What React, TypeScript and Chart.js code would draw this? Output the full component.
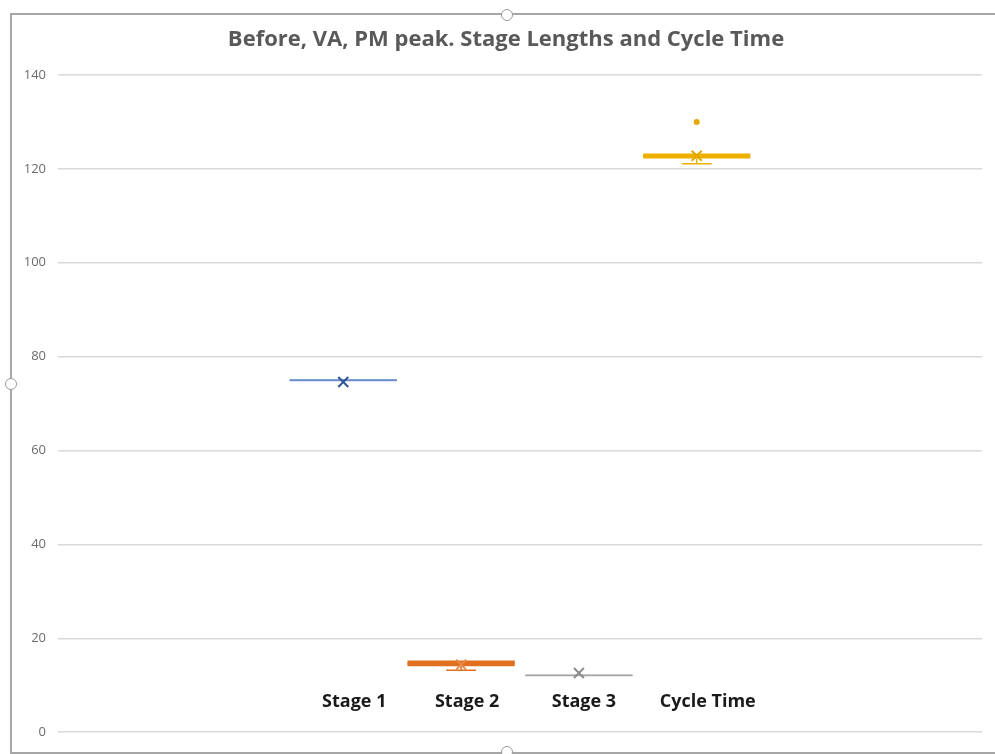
import React, { useEffect, useRef } from "react";
import { Chart, registerables } from "chart.js";

Chart.register(...registerables);

const titleText = "Before, VA, PM peak. Stage Lengths and Cycle Time";
const seriesNames = ["Stage 1", "Stage 2", "Stage 3", "Cycle Time"];
const q1Values = [74.75, 14.05, 11.95, 122.2];
const q3Values = [75.2, 15.3, 12.3, 123.3];
const medianValues = [75, 14.6, 12.1, 122.7];
const minValues = [75, 13.2, 12.1, 121.1];
const maxValues = [75, 15.3, 12.3, 123.3];
const meanValues = [74.6, 14.4, 12.6, 122.8];
const outlierValues: number[][] = [[], [], [], [130]];
const yTicks = [0, 20, 40, 60, 80, 100, 120, 140];

const boxColors = ["#6F8FCF", "#E07020", "#A8A8A8", "#EEB000"];
const markColors = ["#2F5597", "#E8894A", "#8C8C8C", "#E0A800"];
const labelShift = [11, 6, 5, 11];

const boxPlugin = {
  id: "boxExtras",
  afterDatasetsDraw(chart: any) {
    const ctx = chart.ctx;
    const y = chart.scales.y;
    const area = chart.chartArea;
    chart.data.datasets.forEach((ds: any, i: number) => {
      const meta = chart.getDatasetMeta(i);
      const el = meta.data[0];
      if (!el) return;
      const cx = el.x;
      const w = el.width;
      const cap = w * 0.28;
      ctx.save();
      ctx.strokeStyle = boxColors[i];
      ctx.lineWidth = 1.5;
      const yq1 = y.getPixelForValue(q1Values[i]);
      const yq3 = y.getPixelForValue(q3Values[i]);
      const ymin = y.getPixelForValue(minValues[i]);
      const ymax = y.getPixelForValue(maxValues[i]);
      if (ymin > yq1 + 0.5) {
        ctx.beginPath();
        ctx.moveTo(cx, yq1);
        ctx.lineTo(cx, ymin);
        ctx.moveTo(cx - cap / 2, ymin);
        ctx.lineTo(cx + cap / 2, ymin);
        ctx.stroke();
      }
      if (ymax < yq3 - 0.5) {
        ctx.beginPath();
        ctx.moveTo(cx, yq3);
        ctx.lineTo(cx, ymax);
        ctx.moveTo(cx - cap / 2, ymax);
        ctx.lineTo(cx + cap / 2, ymax);
        ctx.stroke();
      }
      const ymed = y.getPixelForValue(medianValues[i]);
      ctx.beginPath();
      ctx.moveTo(cx - w / 2, ymed);
      ctx.lineTo(cx + w / 2, ymed);
      ctx.stroke();
      const ym = y.getPixelForValue(meanValues[i]);
      const s = 5;
      ctx.strokeStyle = markColors[i];
      ctx.lineWidth = 2;
      ctx.beginPath();
      ctx.moveTo(cx - s, ym - s);
      ctx.lineTo(cx + s, ym + s);
      ctx.moveTo(cx + s, ym - s);
      ctx.lineTo(cx - s, ym + s);
      ctx.stroke();
      ctx.fillStyle = markColors[i];
      outlierValues[i].forEach((v) => {
        ctx.beginPath();
        ctx.arc(cx, y.getPixelForValue(v), 3, 0, Math.PI * 2);
        ctx.fill();
      });
      ctx.fillStyle = "#1a1a1a";
      ctx.font = "bold 18px 'Open Sans'";
      ctx.textAlign = "center";
      ctx.textBaseline = "middle";
      ctx.fillText(ds.label, cx + labelShift[i], area.bottom - 30);
      ctx.restore();
    });
    ctx.save();
    ctx.fillStyle = "#595959";
    ctx.font = "bold 22px 'Open Sans'";
    ctx.textAlign = "center";
    ctx.textBaseline = "middle";
    ctx.fillText(titleText, 494, 24);
    ctx.restore();
  },
};

export default function App() {
  const ref = useRef<HTMLCanvasElement>(null);
  useEffect(() => {
    if (!ref.current) return;
    const chart = new Chart(ref.current, {
      type: "bar",
      data: {
        labels: [""],
        datasets: seriesNames.map((name, i) => ({
          label: name,
          data: [[q1Values[i], q3Values[i]]] as any,
          backgroundColor: boxColors[i],
          borderWidth: 0,
          categoryPercentage: 0.51,
          barPercentage: 0.91,
        })),
      },
      options: {
        animation: false,
        responsive: false,
        layout: { padding: { top: 59, bottom: 11, left: 0, right: 13 } },
        plugins: { legend: { display: false }, title: { display: false }, tooltip: { enabled: false } },
        scales: {
          x: { display: false },
          y: {
            min: 0,
            max: 140,
            afterBuildTicks: (s: any) => {
              s.ticks = yTicks.map((v) => ({ value: v }));
            },
            afterFit: (s: any) => {
              s.width = 46;
            },
            grid: { color: "#d9d9d9", drawTicks: false, lineWidth: 1.5 },
            border: { display: false },
            ticks: { color: "#6b6b6b", padding: 12, font: { family: "'Open Sans'", size: 13 } },
          },
        },
      },
      plugins: [boxPlugin],
    });
    return () => chart.destroy();
  }, []);

  const handle = (x: number, y: number): React.CSSProperties => ({
    position: "fixed",
    left: x - 6,
    top: y - 6,
    width: 10,
    height: 10,
    borderRadius: "50%",
    border: "1.5px solid #9a9a9a",
    background: "#fff",
  });

  return (
    <div style={{ position: "fixed", left: 0, top: 0, width: 995, height: 754, background: "#fff" }}>
      <div style={{ position: "fixed", left: 10, top: 13, width: 990, height: 737, borderLeft: "2px solid #a6a6a6", borderTop: "2px solid #a6a6a6", borderBottom: "2px solid #a6a6a6" }} />
      <canvas ref={ref} width={983} height={736} style={{ position: "fixed", left: 12, top: 16, width: 983, height: 736 }} />
      <div style={handle(507, 15)} />
      <div style={handle(11, 384)} />
      <div style={handle(507, 752)} />
    </div>
  );
}
